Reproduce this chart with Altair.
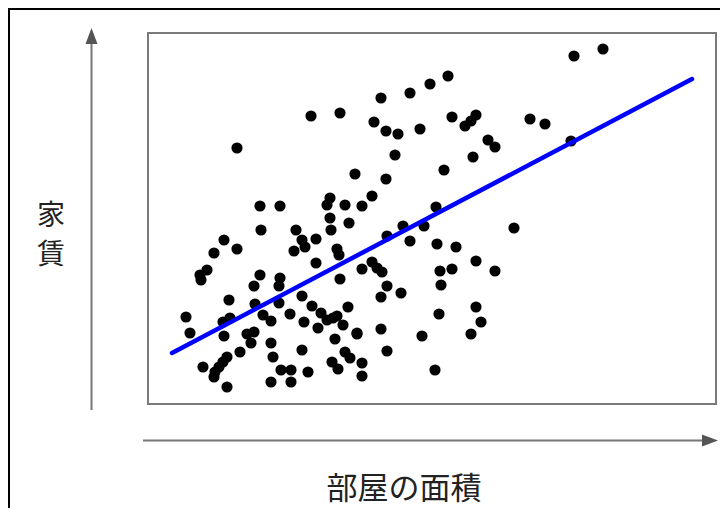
import altair as alt
import pandas as pd

# room area (x) and rent (y), arbitrary units
area = [163, 192, 89, 112, 132, 182, 179, 197, 214, 233, 262, 282, 300, 226, 238, 250, 272, 304, 317, 323,
        328, 340, 347, 325, 296, 247, 207, 238, 224, 288, 382, 397, 426, 455, 423, 182, 113, 76, 66, 89,
        59, 52, 53, 148, 154, 168, 146, 157, 183, 189, 191, 168, 192, 112, 106, 132, 131, 81, 107, 131,
        154, 164, 173, 179, 185, 189, 170, 195, 200, 209, 187, 142, 156, 123, 115, 82, 75, 38, 42, 76,
        99, 106, 103, 123, 125, 154, 92, 79, 75, 71, 67, 66, 55, 79, 123, 133, 143, 143, 160, 184,
        190, 197, 202, 214, 214, 201, 239, 255, 276, 262, 289, 308, 366, 214, 224, 229, 234, 239, 233, 253,
        292, 304, 328, 347, 293, 291, 328, 333, 323, 233, 209, 274, 239, 287]
rent = [288, 291, 256, 198, 198, 206, 199, 199, 198, 306, 311, 320, 328, 282, 273, 270, 275, 287, 278, 283,
        289, 264, 257, 247, 234, 249, 230, 225, 208, 197, 285, 280, 348, 355, 263, 186, 174, 164, 151, 155,
        134, 129, 124, 174, 164, 165, 153, 157, 174, 155, 149, 141, 125, 129, 118, 126, 118, 104, 100, 101,
        108, 98, 91, 84, 86, 88, 76, 79, 97, 71, 65, 90, 82, 83, 89, 86, 82, 87, 71, 68,
        70, 72, 61, 61, 47, 54, 52, 47, 42, 37, 32, 27, 37, 17, 22, 34, 34, 22, 32, 42,
        35, 52, 46, 41, 28, 181, 168, 178, 178, 163, 160, 157, 176, 135, 142, 136, 132, 118, 107, 111,
        133, 135, 143, 133, 119, 90, 97, 82, 70, 75, 70, 68, 53, 34]

fit_area = [24, 544]
fit_rent = [51, 325]

x_label = "部屋の面積"
y_label = ["家", "賃"]

pts = pd.DataFrame({"area": area, "rent": rent})
fit = pd.DataFrame({"area": fit_area, "rent": fit_rent})
box = pd.DataFrame({"x0": [0], "x1": [568], "y0": [0], "y1": [371]})
one = pd.DataFrame({"k": [0]})

xs = alt.Scale(domain=[0, 568], range=[140, 708], nice=False, zero=False)
ys = alt.Scale(domain=[0, 371], range=[396, 25], nice=False, zero=False)
FONT = "Noto Sans CJK JP"

frame = alt.Chart(box).mark_rect(fill="white", stroke="#7a7a7a", strokeWidth=2).encode(
    x=alt.X("x0:Q", scale=xs, axis=None), x2="x1:Q",
    y=alt.Y("y0:Q", scale=ys, axis=None), y2="y1:Q")

points = alt.Chart(pts).mark_circle(size=125, color="black", opacity=1).encode(
    x=alt.X("area:Q", scale=xs, axis=None),
    y=alt.Y("rent:Q", scale=ys, axis=None))

line = alt.Chart(fit).mark_line(color="#0000ff", strokeWidth=4.5, strokeCap="round").encode(
    x=alt.X("area:Q", scale=xs, axis=None),
    y=alt.Y("rent:Q", scale=ys, axis=None))

outer_top = alt.Chart(one).mark_rule(color="black", strokeWidth=2).encode(
    x=alt.value(0), x2=alt.value(712), y=alt.value(1))
outer_left = alt.Chart(one).mark_rule(color="black", strokeWidth=2).encode(
    x=alt.value(1), y=alt.value(0), y2=alt.value(500))

v_arrow = alt.Chart(one).mark_rule(color="#777777", strokeWidth=2).encode(
    x=alt.value(83.5), y=alt.value(402), y2=alt.value(34))
v_head = alt.Chart(one).mark_point(shape="M0,-1L0.75,1L-0.75,1Z", size=256, filled=True,
                                   color="#555555", opacity=1).encode(
    x=alt.value(83.5), y=alt.value(28))
h_arrow = alt.Chart(one).mark_rule(color="#777777", strokeWidth=2).encode(
    x=alt.value(135), x2=alt.value(696), y=alt.value(432.5))
h_head = alt.Chart(one).mark_point(shape="M1,0L-1,-0.75L-1,0.75Z", size=256, filled=True,
                                   color="#555555", opacity=1).encode(
    x=alt.value(702), y=alt.value(432.5))

xlab = alt.Chart(pd.DataFrame({"t": [x_label]})).mark_text(
    font=FONT, fontSize=31, color="#222222", align="center", baseline="middle").encode(
    text="t:N", x=alt.value(396), y=alt.value(482))
ylab1 = alt.Chart(pd.DataFrame({"t": [y_label[0]]})).mark_text(
    font=FONT, fontSize=28, color="#222222", align="center", baseline="middle").encode(
    text="t:N", x=alt.value(43), y=alt.value(208.5))
ylab2 = alt.Chart(pd.DataFrame({"t": [y_label[1]]})).mark_text(
    font=FONT, fontSize=28, color="#222222", align="center", baseline="middle").encode(
    text="t:N", x=alt.value(43), y=alt.value(248))

chart = alt.layer(
    frame, points, line, outer_top, outer_left, v_arrow, v_head, h_arrow, h_head, xlab, ylab1, ylab2
).properties(
    width=712, height=500, autosize=alt.AutoSizeParams(type="none"), padding=0, background="white"
).configure_view(stroke=None)

chart.save("out.html", embed_options={"renderer": "svg", "actions": False})
